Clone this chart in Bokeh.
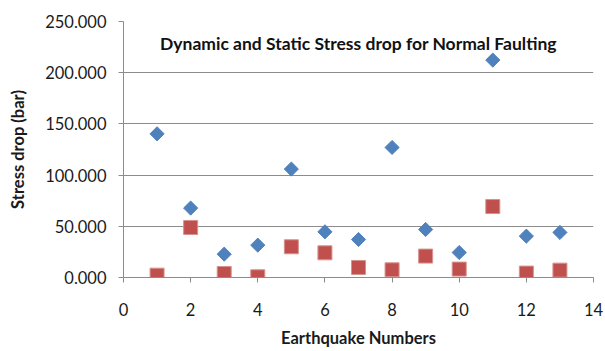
import numpy as np
from bokeh.plotting import figure
from bokeh.models import FixedTicker, NumeralTickFormatter, Range1d, Label
from bokeh.embed import file_html
from bokeh.resources import INLINE

# Earthquake index and stress drops (bar)
quake = [1, 2, 3, 4, 5, 6, 7, 8, 9, 10, 11, 12, 13]
dynamic_drop = [140.3, 67.8, 22.8, 31.6, 105.9, 44.6, 37.1, 127.0, 46.9, 24.4, 212.3, 40.4, 44.0]
static_drop = [2.3, 48.8, 3.9, 0.7, 30.0, 24.1, 9.8, 7.5, 20.9, 8.2, 69.3, 4.3, 7.2]

x_ticks = [0, 2, 4, 6, 8, 10, 12, 14]
y_ticks = [0, 50, 100, 150, 200, 250]

FONT = "Lato"
GRID = "#8c8c8c"

p = figure(width=605, height=351, output_backend="svg", toolbar_location=None,
           x_range=Range1d(0, 14), y_range=Range1d(0, 250),
           min_border_left=123, min_border_right=12,
           min_border_top=21, min_border_bottom=74)
p.outline_line_color = None
p.background_fill_color = "white"
p.border_fill_color = "white"

# grid
p.xgrid.grid_line_color = None
p.ygrid.grid_line_color = GRID
p.ygrid.grid_line_width = 1

# axes
for ax in (p.xaxis[0], p.yaxis[0]):
    ax.axis_line_color = GRID
    ax.major_tick_line_color = GRID
    ax.minor_tick_line_color = None
    ax.major_tick_in = 0
    ax.major_tick_out = 5
    ax.major_label_text_font = FONT
    ax.major_label_text_font_size = "16.5px"
    ax.major_label_text_color = "#1a1a1a"
    ax.axis_label_text_font = FONT
    ax.axis_label_text_font_style = "bold"
    ax.axis_label_text_font_size = "16.5px"
    ax.axis_label_text_color = "#1a1a1a"

p.xaxis.ticker = FixedTicker(ticks=x_ticks)
p.yaxis.ticker = FixedTicker(ticks=y_ticks)
p.yaxis.formatter = NumeralTickFormatter(format="0.000")
p.xaxis.major_label_standoff = 20
p.yaxis.major_label_standoff = 12
p.xaxis.axis_label = "Earthquake Numbers"
p.yaxis.axis_label = "Stress drop (bar)"
p.xaxis.axis_label_standoff = 9
p.yaxis.axis_label_standoff = 14

# series
p.scatter(quake, dynamic_drop, marker="square", angle=np.pi / 4, size=10,
          fill_color="#4F81BD", line_color="#4F81BD", line_width=1)
p.scatter(quake, static_drop, marker="square", size=14,
          fill_color="#C0504D", line_color="#d8928e", line_width=1)

# title inside the plot area
p.add_layout(Label(x=7, y=229, x_units="data", y_units="data",
                   text="Dynamic and Static Stress drop for Normal Faulting",
                   text_font=FONT, text_font_style="bold", text_font_size="17.5px",
                   text_align="center", text_baseline="middle", text_color="#111111"))

open("out.html", "w").write(file_html(p, INLINE))
